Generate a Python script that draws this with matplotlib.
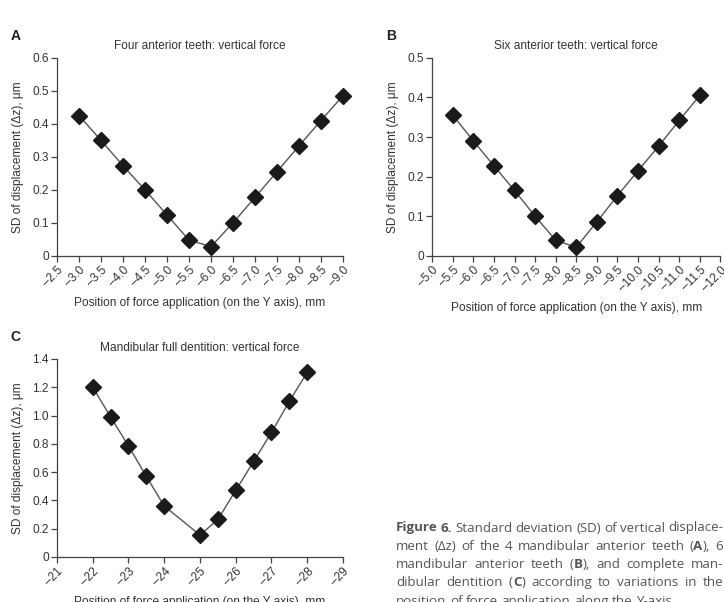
import numpy as np
import matplotlib
matplotlib.use("Agg")
import matplotlib.pyplot as plt

plt.rcParams['font.family'] = ['Liberation Sans', 'DejaVu Sans']

# Panel A: four anterior teeth
xa = [-3.0, -3.5, -4.0, -4.5, -5.0, -5.5, -6.0, -6.5, -7.0, -7.5, -8.0, -8.5, -9.0]
ya = [0.425, 0.350, 0.273, 0.200, 0.124, 0.048, 0.028, 0.100, 0.177, 0.255, 0.333, 0.410, 0.485]
xticks_a = [-2.5, -3.0, -3.5, -4.0, -4.5, -5.0, -5.5, -6.0, -6.5, -7.0, -7.5, -8.0, -8.5, -9.0]

# Panel B: six anterior teeth
xb = [-5.5, -6.0, -6.5, -7.0, -7.5, -8.0, -8.5, -9.0, -9.5, -10.0, -10.5, -11.0, -11.5]
yb = [0.355, 0.290, 0.227, 0.165, 0.100, 0.039, 0.022, 0.086, 0.152, 0.215, 0.277, 0.342, 0.405]
xticks_b = [-5.0, -5.5, -6.0, -6.5, -7.0, -7.5, -8.0, -8.5, -9.0, -9.5, -10.0, -10.5, -11.0, -11.5, -12.0]

# Panel C: mandibular full dentition
xc = [-22, -22.5, -23, -23.5, -24, -25, -25.5, -26, -26.5, -27, -27.5, -28]
yc = [1.20, 0.99, 0.785, 0.57, 0.36, 0.155, 0.265, 0.47, 0.675, 0.88, 1.10, 1.305]
xticks_c = [-21, -22, -23, -24, -25, -26, -27, -28, -29]

# caption lines, words wrapped in * are bold
cap_lines = [
    '*Figure* *6.* Standard deviation (SD) of vertical displace-',
    'ment (\u0394z) of the 4 mandibular anterior teeth (*A*), 6',
    'mandibular anterior teeth (*B*), and complete man-',
    'dibular dentition (*C*) according to variations in the',
    'position of force application along the Y-axis.',
]

fig = plt.figure(figsize=(7.24, 6.02), dpi=100)
W, H = 724, 602

def panel(rect, x, y, xticks, xfmt, ylim, yticks, yfmt, title, letter):
    ax = fig.add_axes(rect)
    ax.plot(x, y, color='#555555', lw=1.0, marker='D', ms=8,
            mfc='#1a1a1a', mec='#1a1a1a', clip_on=False)
    ax.set_xlim(xticks[0], xticks[-1])
    ax.set_ylim(*ylim)
    ax.set_xticks(xticks)
    ax.set_xticklabels([xfmt.format(v).replace('-', '\u2013') for v in xticks],
                       rotation=45, ha='right', rotation_mode='anchor')
    ax.set_yticks(yticks)
    ax.set_yticklabels([yfmt(v) for v in yticks])
    for s in ['top', 'right']:
        ax.spines[s].set_visible(False)
    for s in ['left', 'bottom']:
        ax.spines[s].set_color('#444444')
        ax.spines[s].set_linewidth(0.9)
    ax.tick_params(direction='out', length=4, width=0.9, color='#444444',
                   labelsize=8.6, labelcolor='#333333', pad=2)
    ax.set_title(title, fontsize=8.6, color='#333333', pad=6)
    ax.set_xlabel('Position of force application (on the Y axis), mm',
                  fontsize=8.6, color='#333333', labelpad=6)
    ax.set_ylabel('SD of displacement (\u0394z), \u03bcm', fontsize=8.6,
                  color='#333333', labelpad=6)
    pos = ax.get_position()
    fig.text(pos.x0 - 0.064, pos.y1 + 0.037, letter, fontsize=10,
             fontweight='bold', color='#222222', ha='left', va='center')
    return ax

def yf1(v):
    return '0' if v == 0 else '{:.1f}'.format(v)

panel([0.0787, 0.575, 0.395, 0.329], xa, ya, xticks_a, '{:.1f}', (0, 0.6),
      [0, 0.1, 0.2, 0.3, 0.4, 0.5, 0.6], yf1,
      'Four anterior teeth: vertical force', 'A')
panel([0.597, 0.575, 0.398, 0.329], xb, yb, xticks_b, '{:.1f}', (0, 0.5),
      [0, 0.1, 0.2, 0.3, 0.4, 0.5], yf1,
      'Six anterior teeth: vertical force', 'B')
panel([0.0787, 0.0748, 0.395, 0.329], xc, yc, xticks_c, '{:.0f}', (0, 1.4),
      [0, 0.2, 0.4, 0.6, 0.8, 1.0, 1.2, 1.4], yf1,
      'Mandibular full dentition: vertical force', 'C')

# caption, justified between x=396 and x=723
renderer = fig.canvas.get_renderer()
cap_left, cap_right = 396, 723
cap_fs = 9.6

def parts(word):
    # split a word into (text, bold) runs
    out = []
    segs = word.split('*')
    for k, s in enumerate(segs):
        if s:
            out.append((s, k % 2 == 1))
    return out

def run_width(runs):
    w = 0
    for s, b in runs:
        t = fig.text(0, 0, s, fontsize=cap_fs, family='Open Sans',
                     fontweight='bold' if b else 'normal')
        w += t.get_window_extent(renderer).width
        t.remove()
    return w

sp = fig.text(0, 0, 'a a', fontsize=cap_fs, family='Open Sans')
sp_w = sp.get_window_extent(renderer).width
sp.remove()
a1 = fig.text(0, 0, 'aa', fontsize=cap_fs, family='Open Sans')
sp_w -= a1.get_window_extent(renderer).width
a1.remove()

for i, line in enumerate(cap_lines):
    yy = 528 + i * 18.3
    words = [parts(w) for w in line.split(' ')]
    widths = [run_width(r) for r in words]
    if i < len(cap_lines) - 1:
        gap = (cap_right - cap_left - sum(widths)) / (len(words) - 1)
    else:
        gap = sp_w
    x = cap_left
    for runs, wd in zip(words, widths):
        xx = x
        for s, b in runs:
            t = fig.text(xx / W, 1 - yy / H, s, fontsize=cap_fs, family='Open Sans',
                         fontweight='bold' if b else 'normal', color='#555555',
                         va='center', ha='left')
            xx += t.get_window_extent(renderer).width
        x += wd + gap

fig.savefig('out.png', dpi=100)
